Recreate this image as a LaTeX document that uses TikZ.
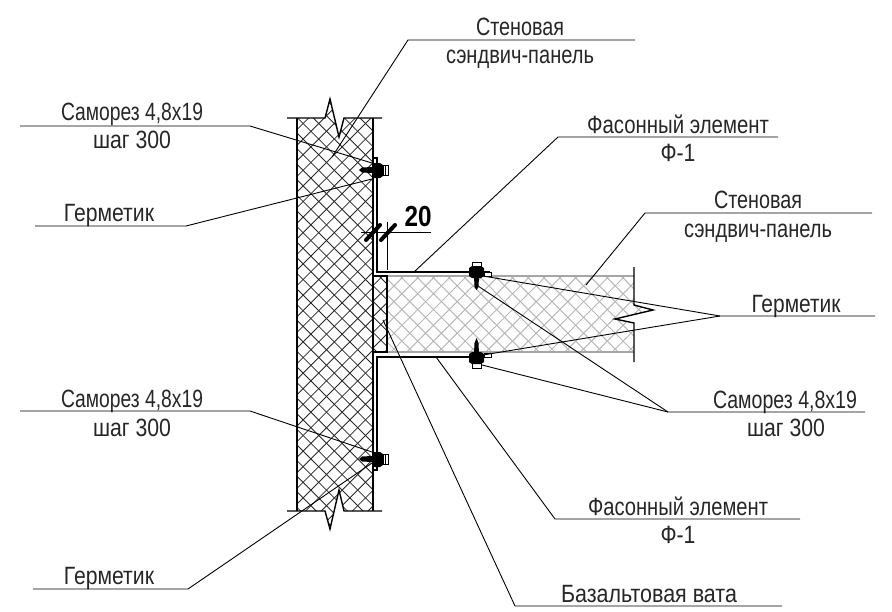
\documentclass[tikz,border=0pt]{standalone}
\usepackage{fontspec}
\setmainfont{Liberation Sans}
\newfontfamily\gost{Liberation Sans}
\newsavebox{\fitbox}
\newcommand{\fitw}[2]{\sbox{\fitbox}{#2}\pgfmathsetmacro{\fitr}{#1/(\wd\fitbox/1pt)}\scalebox{\fitr}[1]{\usebox{\fitbox}}}
\tikzset{
 x=1pt,y=-1pt,
 lbl/.style={font=\gost\fontsize{25}{25}\selectfont,inner sep=0pt,anchor=base,text=black!85},
 leader/.style={draw=black,line width=0.9pt,line join=miter},
 outline/.style={draw=black,line width=1.4pt},
 hatchblack/.style={draw=black!85,line width=0.8pt},
 hatchgray/.style={draw=black!28,line width=1pt},
 tick/.style={draw=black,line width=4pt,line cap=round},
 capbox/.style={draw=black,fill=white,line width=0.8pt}
}
\begin{document}
\begin{tikzpicture}
\useasboundingbox (0,0) rectangle (892,611);
% gray panel
\begin{scope}
 \clip (387,276) -- (634,276) -- (634,305) -- (653,310) -- (615,319) -- (634,323) -- (634,352) -- (387,352) -- cycle;
 \foreach \k in {-30,...,30}{
  \draw[hatchgray] (494.6+\k*15.8,260) -- ++(110,110);
  \draw[hatchgray] (562+\k*15.8,260) -- ++(-110,110);
 }
\end{scope}
\draw[draw=black!35,line width=1.2pt] (387,276) -- (634,276) (387,352) -- (634,352);
% main panel
\begin{scope}
 \clip (297,118) -- (325,118) -- (330,99) -- (339,137) -- (344,118) -- (373,118) -- (373,511) -- (344,511) -- (339,490) -- (330,529) -- (325,511) -- (297,511) -- cycle;
 \foreach \k in {-30,...,30}{
  \draw[hatchblack] (113.6+\k*15.6,90) -- ++(460,460);
  \draw[hatchblack] (555+\k*15.6,90) -- ++(-460,460);
 }
\end{scope}
\draw[outline] (297,118) -- (297,511) (373,118) -- (373,511);
\draw[outline] (287,118) -- (325,118) -- (330,99) -- (339,137) -- (344,118) -- (382,118);
\draw[outline] (287,511) -- (325,511) -- (330,529) -- (339,490) -- (344,511) -- (382,511);
% basalt wool
\begin{scope}
 \clip (373,276) rectangle (387,352);
 \foreach \k in {-12,...,12}{
  \draw[hatchblack] (373+\k*15.6,270) -- ++(90,90);
  \draw[hatchblack] (373+\k*15.6,270) -- ++(-90,90);
 }
\end{scope}
\draw[outline] (373,276) rectangle (387,352);
% flashing
\draw[line width=1.1pt] (373,158) -- (377,158) -- (377,272) -- (490,272);
\draw[line width=1.1pt] (490,357) -- (377,357) -- (377,470) -- (373,470);
% right end with break
\draw[outline] (634,267) -- (634,305) -- (653,310) -- (615,319) -- (634,323) -- (634,362);
% dimension
\coordinate (dimL) at (361,232);
\coordinate (dimR) at (431,232);
\coordinate (extT) at (387,222);
\coordinate (extB) at (387,270);
\draw[line width=0.8pt] (dimL) -- (dimR) (extT) -- (extB);
\draw[tick] (366,240) -- (380,225);
\draw[tick] (381,240) -- (395,225);
\node[font=\bfseries\gost\fontsize{29}{29}\selectfont,inner sep=0pt,anchor=base] (dimtxt) at (418,226) {\fitw{27}{20}};
% screws left
\foreach \yy in {170,459}{
 \draw[capbox] (383,\yy-5) rectangle (388,\yy+5);
 \draw[line width=0.6pt] (385.5,\yy-5) -- (385.5,\yy+5);
 \fill[black] (372,\yy-7) -- (380,\yy-7) -- (383,\yy-5) -- (383,\yy+6) -- (380,\yy+8) -- (372,\yy+8) -- cycle;
 \fill[black] (372,\yy-3) -- (362,\yy-2.5) -- (359,\yy) -- (362,\yy+2.5) -- (372,\yy+3) -- cycle;
}
% screws panel
\draw[capbox] (472,262) rectangle (481,267);
\draw[capbox] (484,272) rectangle (491,276);
\fill[black] (469,268) -- (472,266) -- (481,266) -- (484,268) -- (484,276) -- (481,278) -- (472,278) -- (469,276) -- cycle;
\fill[black] (474,276) -- (479,276) -- (478.5,287) -- (476.5,290) -- (474.5,287) -- cycle;
\draw[capbox] (472,363) rectangle (481,368);
\draw[capbox] (484,353) rectangle (491,357);
\fill[black] (469,354) -- (472,352) -- (481,352) -- (484,354) -- (484,362) -- (481,364) -- (472,364) -- (469,362) -- cycle;
\fill[black] (474,354) -- (479,354) -- (478.5,343) -- (476.5,338) -- (474.5,343) -- cycle;
% labels
\node[lbl] (wallA) at (520,35) {\fitw{88}{Стеновая}};
\node[lbl] (wallB) at (520,63) {\fitw{148}{сэндвич-панель}};
\node[lbl] (scrTLa) at (132,120) {\fitw{142}{Саморез 4,8x19}};
\node[lbl] (scrTLb) at (132,148) {\fitw{78}{шаг 300}};
\node[lbl] (sealTL) at (109,221) {\fitw{90}{Герметик}};
\node[lbl] (profTa) at (678,133) {\fitw{182}{Фасонный элемент}};
\node[lbl] (profTb) at (678,161) {\fitw{35}{Ф-1}};
\node[lbl] (wallRa) at (758,208) {\fitw{88}{Стеновая}};
\node[lbl] (wallRb) at (758,237) {\fitw{148}{сэндвич-панель}};
\node[lbl] (sealR) at (796,312) {\fitw{89}{Герметик}};
\node[lbl] (scrRa) at (785,408) {\fitw{144}{Саморез 4,8x19}};
\node[lbl] (scrRb) at (786,436) {\fitw{78}{шаг 300}};
\node[lbl] (scrBLa) at (132,407) {\fitw{142}{Саморез 4,8x19}};
\node[lbl] (scrBLb) at (132,436) {\fitw{78}{шаг 300}};
\node[lbl] (profBa) at (678,515) {\fitw{180}{Фасонный элемент}};
\node[lbl] (profBb) at (678,543) {\fitw{35}{Ф-1}};
\node[lbl] (sealBL) at (109,584) {\fitw{90}{Герметик}};
\node[lbl] (wool) at (649,602) {\fitw{176}{Базальтовая вата}};
% leader targets
\coordinate (tWall) at (332,157);
\coordinate (tScrTL) at (372,163);
\coordinate (tSealTL) at (372,179);
\coordinate (tProfT) at (414,272);
\coordinate (tWallR) at (586,285);
\coordinate (tSealR1) at (483,276);
\coordinate (tSealR2) at (483,355);
\coordinate (tScrR1) at (478,286);
\coordinate (tScrR2) at (482,365);
\coordinate (tProfB) at (436,357);
\coordinate (tWool) at (383,320);
\coordinate (tScrBL) at (372,452);
\coordinate (tSealBL) at (372,463);
% leaders
\draw[leader] (635,40) -- (408,40) -- (tWall);
\draw[leader] (20,126) -- (250,126) -- (tScrTL);
\draw[leader] (35,226) -- (186,226) -- (tSealTL);
\draw[leader] (778,137) -- (558,137) -- (tProfT);
\draw[leader] (872,213) -- (645,213) -- (tWallR);
\draw[leader] (875,316) -- (720,316) -- (tSealR1);
\draw[leader] (720,316) -- (tSealR2);
\draw[leader] (865,412) -- (668,412) -- (tScrR1);
\draw[leader] (668,412) -- (tScrR2);
\draw[leader] (800,519) -- (555,519) -- (tProfB);
\draw[leader] (782,606) -- (515,606) -- (tWool);
\draw[leader] (20,411) -- (250,411) -- (tScrBL);
\draw[leader] (33,589) -- (188,589) -- (tSealBL);
\end{tikzpicture}
\end{document}
